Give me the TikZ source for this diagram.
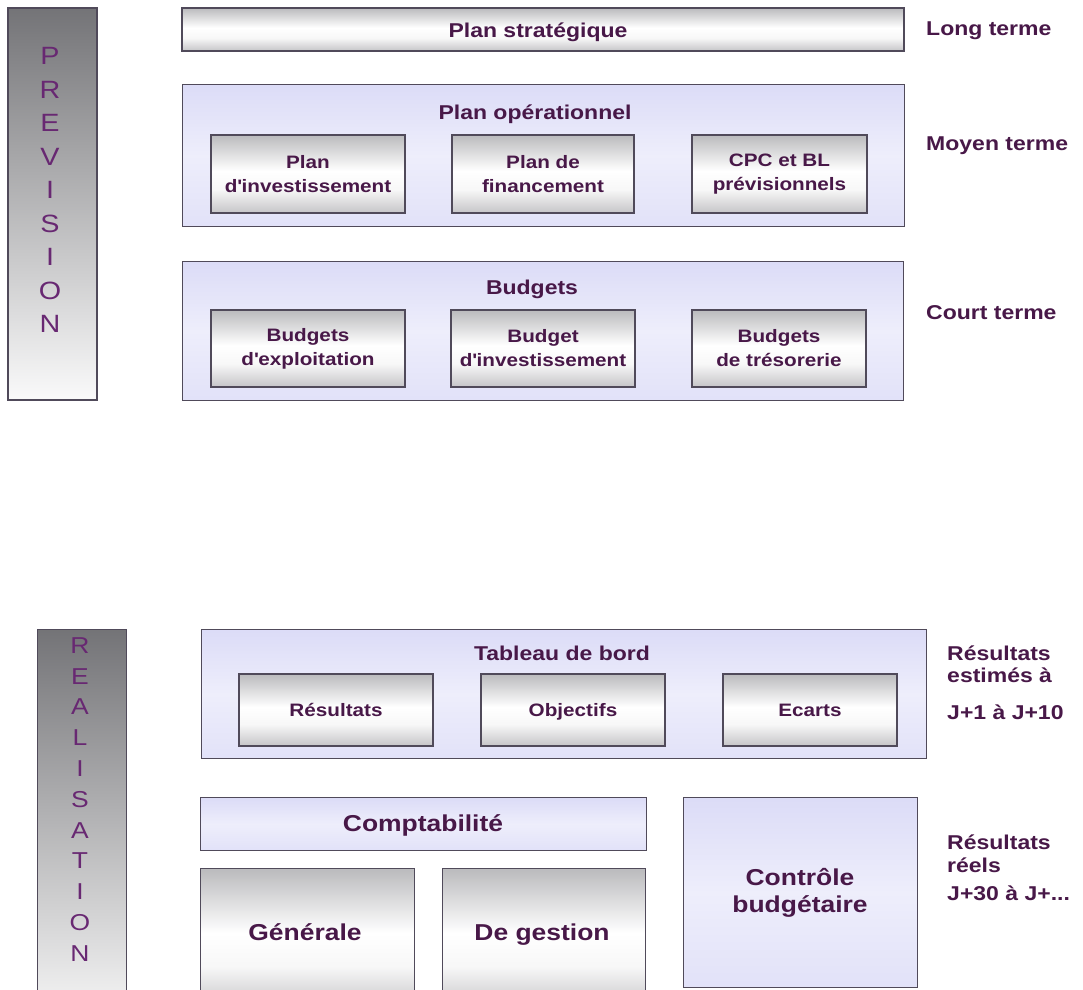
\documentclass[tikz,border=0pt]{standalone}
\usepackage{fontspec}
\setmainfont{Liberation Sans}[FakeStretch=1.15]
\definecolor{ink}{RGB}{72,24,72}
\definecolor{letter}{RGB}{104,40,114}
\definecolor{edge}{RGB}{80,74,90}
\definecolor{lav}{RGB}{206,206,244}
\definecolor{gtop}{RGB}{136,136,140}
\definecolor{gbot}{RGB}{104,102,110}
% metallic bar: grey top, bright band, darker bottom
\pgfdeclareverticalshading{metal}{100bp}{color(0bp)=(gbot); color(15bp)=(gbot!60!white); color(40bp)=(white!94!gray); color(52bp)=(white); color(74bp)=(gtop!55!white); color(100bp)=(gtop)}
% pale lilac panel
\pgfdeclareverticalshading{lilac}{100bp}{color(0bp)=(lav); color(25bp)=(lav!60!white); color(50bp)=(lav!35!white); color(75bp)=(lav!72!white); color(100bp)=(lav)}
\tikzset{
  panel/.style={draw=edge, line width=1.4pt, shading=lilac, inner sep=0pt, anchor=north west},
  metalbox/.style={draw=edge, line width=1.4pt, shading=metal, inner sep=0pt, align=center, text=ink, font=\bfseries\fontsize{18}{24}\selectfont},
  sidebar/.style={draw=edge, line width=1.4pt, top color=gtop!85!black, bottom color=white!96!gray, inner sep=0pt},
  capline/.style={text height=#1, text depth=0pt},
  title/.style={capline=14.3pt, text=ink, font=\bfseries\fontsize{20}{24}\selectfont, inner sep=0pt},
  bigtext/.style={text=ink, font=\bfseries\fontsize{23}{27}\selectfont, align=center, inner sep=0pt},
  term/.style={capline=14.3pt, text=ink, font=\bfseries\fontsize{20}{24}\selectfont, anchor=west, inner sep=0pt},
  vletter/.style={text=letter, inner sep=0pt},
}
\newcommand{\apos}{\textquotesingle}
\begin{document}
\begin{tikzpicture}[x=1pt,y=-1pt]
\useasboundingbox (0,0) rectangle (1083,989);
\fill[white] (0,0) rectangle (1083,989);
\clip (0,0) rectangle (1083,989);

% ---------- PREVISION ----------
\node[sidebar, minimum width=89pt, minimum height=392pt] (prevbar) at (52.5,204) {};
\foreach \c [count=\i from 0] in {P,R,E,V,I,S,I,O,N}
  \node[vletter, capline=17.9pt, font=\fontsize{25}{28}\selectfont] (prev-\i) at (50,56+33.5*\i) {\c};

\node[metalbox, minimum width=722pt, minimum height=43pt] (strat) at (543,29.5) {};
\node[title] (strattxt) at (538,30) {Plan stratégique};

\node[panel, minimum width=722pt, minimum height=142pt] (oper) at (182,84) {};
\node[title] (opertxt) at (535,112) {Plan opérationnel};
\node[metalbox, minimum width=194pt, minimum height=78pt] (pinv) at (308,174) {Plan\\d\apos investissement};
\node[metalbox, minimum width=182pt, minimum height=78pt] (pfin) at (543,174) {Plan de\\financement};
\node[metalbox, minimum width=175pt, minimum height=78pt] (cpc) at (779.5,174) {CPC et BL\\prévisionnels};

\node[panel, minimum width=721pt, minimum height=139pt] (budg) at (182,261) {};
\node[title] (budgtxt) at (532,287) {Budgets};
\node[metalbox, minimum width=194pt, minimum height=77pt] (bexp) at (308,348.5) {Budgets\\d\apos exploitation};
\node[metalbox, minimum width=184pt, minimum height=77pt] (binv) at (543,348.5) {Budget\\d\apos investissement};
\node[metalbox, minimum width=174pt, minimum height=77pt] (btre) at (779,348.5) {Budgets\\de trésorerie};

\node[term] (long) at (926,28) {Long terme};
\node[term] (moyen) at (926,143) {Moyen terme};
\node[term] (court) at (926,312) {Court terme};

% ---------- REALISATION ----------
\node[sidebar, minimum width=89pt, minimum height=400pt, anchor=north west] (realbar) at (37,629) {};
\foreach \c [count=\i from 0] in {R,E,A,L,I,S,A,T,I,O,N}
  \node[vletter, capline=16.5pt, font=\fontsize{23}{26}\selectfont] (real-\i) at (80,645+30.8*\i) {\c};

\node[panel, minimum width=725pt, minimum height=129pt] (tab) at (201,629) {};
\node[title] (tabtxt) at (562,653) {Tableau de bord};
\node[metalbox, capline=12.9pt, minimum width=194pt, minimum height=72pt] (res) at (336,710) {Résultats};
\node[metalbox, capline=12.9pt, minimum width=184pt, minimum height=72pt] (obj) at (573,710) {Objectifs};
\node[metalbox, capline=12.9pt, minimum width=174pt, minimum height=72pt] (ecart) at (810,710) {Ecarts};

\node[panel, minimum width=446pt, minimum height=53pt] (compta) at (200,797) {};
\node[bigtext, capline=16.5pt] (comptatxt) at (423,823) {Comptabilité};
\node[metalbox, minimum width=214pt, minimum height=140pt, anchor=north west] (gen) at (200,868) {};
\node[bigtext, capline=16.5pt] (gentxt) at (305,932) {Générale};
\node[metalbox, minimum width=203pt, minimum height=140pt, anchor=north west] (gest) at (442,868) {};
\node[bigtext, capline=16.5pt] (gesttxt) at (542,932) {De gestion};

\node[panel, minimum width=234pt, minimum height=190pt] (ctrl) at (683,797) {};
\node[bigtext] (ctrltxt) at (800,893) {Contrôle\\budgétaire};

\node[term] (est1) at (947,653) {Résultats};
\node[term] (est2) at (947,675) {estimés à};
\node[term] (est3) at (947,712) {J+1 à J+10};
\node[term] (reel1) at (947,842) {Résultats};
\node[term] (reel2) at (947,865) {réels};
\node[term] (reel3) at (947,893) {J+30 à J+...};
\end{tikzpicture}
\end{document}
